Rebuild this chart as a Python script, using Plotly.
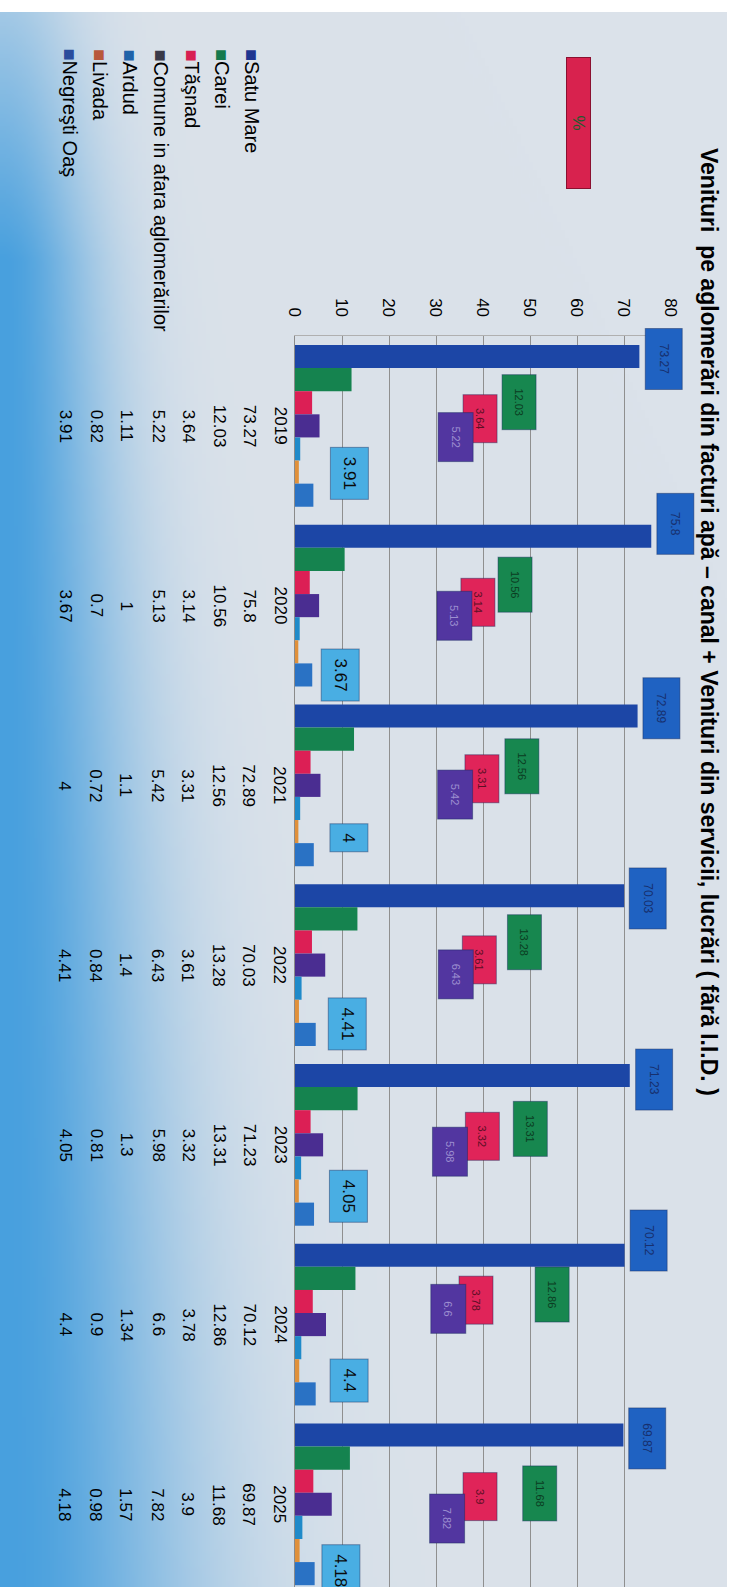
import base64
import struct
import zlib

import numpy as np
import plotly.graph_objects as go

# ---------------- data ----------------
years = ["2019", "2020", "2021", "2022", "2023", "2024", "2025"]
series_names = ["Satu Mare", "Carei", "Tăşnad", "Comune in afara aglomerărilor",
                "Ardud", "Livada", "Negreşti Oaş"]
satu_mare = [73.27, 75.8, 72.89, 70.03, 71.23, 70.12, 69.87]
carei = [12.03, 10.56, 12.56, 13.28, 13.31, 12.86, 11.68]
tasnad = [3.64, 3.14, 3.31, 3.61, 3.32, 3.78, 3.9]
comune = [5.22, 5.13, 5.42, 6.43, 5.98, 6.6, 7.82]
ardud = [1.11, 1, 1.1, 1.4, 1.3, 1.34, 1.57]
livada = [0.82, 0.7, 0.72, 0.84, 0.81, 0.9, 0.98]
negresti = [3.91, 3.67, 4, 4.41, 4.05, 4.4, 4.18]
x_ticks = [0, 10, 20, 30, 40, 50, 60, 70, 80]
title_text = ("Venituri\u00a0 pe aglomerări din facturi apă – canal + Venituri din servicii, "
              "lucrări ( fără I.I.D. )")
axis_title = "%"

series_values = [satu_mare, carei, tasnad, comune, ardud, livada, negresti]

# ---------------- styles / placement ----------------
W, H = 734, 1587
ML, MR, MT, MB = 295, 63, 336, 0
PW, PH = W - ML - MR, H - MT - MB
FONT = "Liberation Sans, Arial, sans-serif"

bar_colors = ["#1c46a6", "#15834f", "#dc1f55", "#4a2d91", "#1f8ac9", "#e0903a", "#2a72c4"]
key_colors = ["#1e3590", "#157a4d", "#d81f52", "#3a3a48", "#1f62a8", "#b8583a", "#2a4c9c"]

# data-label boxes (placement of the dragged labels, in axis units / pixel shifts)
label_style = {
    0: dict(bg="#1f62c2", fg="#17306e", size=12, w=58, h=34),
    1: dict(bg="#17874f", fg="#0b3d22", size=11, w=52, h=31),
    2: dict(bg="#e02459", fg="#5c0f25", size=11, w=45, h=31),
    3: dict(bg="#5236a0", fg="#9d8fd0", size=11, w=46, h=32),
    6: dict(bg="#49aee3", fg="#0a0a0a", size=17, w=None, h=None),
}
label_x = {
    1: [47.7, 46.9, 48.2, 48.8, 50.1, 54.8, 52.0],
    2: [39.4, 39.0, 39.7, 39.2, 39.9, 38.6, 39.3],
    3: [34.1, 33.9, 34.1, 34.3, 32.9, 32.6, 32.4],
    6: [11.6, 9.7, 11.4, 11.1, 11.4, 11.6, 9.7],
}
label_dy = {
    0: [66.5, 81.5, 77.5, 66.5, 65.5, 84.5, 65.5],
    1: [23.5, 20.5, 19.5, 22.5, 15.5, 30.5, 10.5],
    2: [7.5, 3.5, 6.5, 5.5, 8.5, 24.5, 7.5],
    3: [-11.5, -10.5, -9.5, -9.5, -6.5, 15.5, -14.5],
    6: [-47.5, -69.5, -52.5, -58.5, -51.5, -55.5, -66.5],
}

# data table placement (pixel columns)
year_row_px = 280
value_row_px = [249, 219, 188, 158, 126, 96, 65]
name_row_px = [252, 222, 192, 161, 130, 100, 70]
name_top_px = 47


def px_to_paper_x(px):
    return (px - ML) / PW


def py_to_paper_y(py):
    return (H - MB - py) / PH


def fmt(v):
    return f"{v:g}"


# ---------------- background gradient image ----------------
def make_png(rgb):
    h, w, _ = rgb.shape
    raw = b"".join(b"\x00" + rgb[i].tobytes() for i in range(h))

    def chunk(t, d):
        return struct.pack(">I", len(d)) + t + d + struct.pack(">I", zlib.crc32(t + d) & 0xFFFFFFFF)

    return (b"\x89PNG\r\n\x1a\n"
            + chunk(b"IHDR", struct.pack(">IIBBBBB", w, h, 8, 2, 0, 0, 0))
            + chunk(b"IDAT", zlib.compress(raw, 9))
            + chunk(b"IEND", b""))


bg_x0, bg_x1, bg_y0, bg_y1 = 0, 727, 12, H
gw, gh = 182, 394
gx = bg_x0 + (np.arange(gw) + 0.5) * (bg_x1 - bg_x0) / gw
gy = bg_y0 + (np.arange(gh) + 0.5) * (bg_y1 - bg_y0) / gh
PX, PY = np.meshgrid(gx, gy)
amp = np.clip(0.35 + PY / 400.0, 0, 1)
wid = 75 + 115 * PY / H
t = amp * np.exp(-(PX / wid) ** 2)
pale = np.array([219, 226, 234], dtype=float)
blue = np.array([72, 160, 222], dtype=float)
img = (pale[None, None, :] * (1 - t[..., None]) + blue[None, None, :] * t[..., None])
img = np.clip(img, 0, 255).astype(np.uint8)
bg_uri = "data:image/png;base64," + base64.b64encode(make_png(img)).decode()

# ---------------- figure ----------------
fig = go.Figure()
for name, vals, col in zip(series_names, series_values, bar_colors):
    fig.add_trace(go.Bar(
        y=years, x=vals, name=name, orientation="h",
        marker=dict(color=col, line=dict(width=0)),
        hoverinfo="x+name",
    ))

ann = []
# data labels
for si, st in label_style.items():
    vals = series_values[si]
    for j, v in enumerate(vals):
        a = dict(
            xref="x", yref="y", y=j, text=fmt(v), showarrow=False,
            textangle=90, xanchor="center", yanchor="middle",
            font=dict(family=FONT, size=st["size"], color=st["fg"]),
            bgcolor=st["bg"], bordercolor="rgba(20,40,90,0.45)", borderwidth=1,
            yshift=label_dy[si][j],
        )
        if si == 0:
            a.update(x=v, xshift=24)
        else:
            a.update(x=label_x[si][j])
        if st["w"]:
            a.update(width=st["w"], height=st["h"], borderpad=1)
        else:
            a.update(borderpad=9)
        ann.append(a)

# data table: years row
for j, yv in enumerate(years):
    ann.append(dict(xref="paper", yref="y", x=px_to_paper_x(year_row_px), y=j, text=yv,
                    showarrow=False, textangle=90, xanchor="center", yanchor="middle",
                    font=dict(family=FONT, size=17, color="#000000")))
# data table: values
for si, vals in enumerate(series_values):
    for j, v in enumerate(vals):
        ann.append(dict(xref="paper", yref="y", x=px_to_paper_x(value_row_px[si]), y=j,
                        text=fmt(v), showarrow=False, textangle=90,
                        xanchor="center", yanchor="middle",
                        font=dict(family=FONT, size=17, color="#000000")))
# data table: series names with keys
for si, name in enumerate(series_names):
    ann.append(dict(xref="paper", yref="paper", x=px_to_paper_x(name_row_px[si]),
                    y=py_to_paper_y(name_top_px),
                    text=f'<span style="color:{key_colors[si]}">■</span>{name}',
                    showarrow=False, textangle=90, xanchor="center", yanchor="top",
                    font=dict(family=FONT, size=20, color="#000000")))
# title
ann.append(dict(xref="paper", yref="paper", x=px_to_paper_x(709), y=py_to_paper_y(622),
                text=f"<b>{title_text}</b>", showarrow=False, textangle=90,
                xanchor="center", yanchor="middle",
                font=dict(family=FONT, size=23, color="#000000")))
# value axis title "%"
ann.append(dict(xref="paper", yref="paper", x=px_to_paper_x(578), y=py_to_paper_y(123),
                text=axis_title, showarrow=False, textangle=90,
                xanchor="center", yanchor="middle", width=128, height=21, borderpad=1,
                bgcolor="#d8224e", bordercolor="#8a1030", borderwidth=1,
                font=dict(family=FONT, size=17, color="#1f5a2e")))

fig.update_layout(
    width=W, height=H, autosize=False,
    margin=dict(l=ML, r=MR, t=MT, b=MB, pad=0),
    barmode="group", bargap=0.1, bargroupgap=0,
    showlegend=False,
    paper_bgcolor="#ffffff", plot_bgcolor="#ffffff",
    font=dict(family=FONT, color="#000000"),
    annotations=ann,
    images=[dict(source=bg_uri, xref="paper", yref="paper",
                 x=px_to_paper_x(bg_x0), y=py_to_paper_y(bg_y0),
                 sizex=(bg_x1 - bg_x0) / PW, sizey=(bg_y1 - bg_y0) / PH,
                 xanchor="left", yanchor="top", sizing="stretch", layer="below")],
    xaxis=dict(range=[0, 80], side="top", tickmode="array", tickvals=x_ticks,
               ticktext=[str(v) for v in x_ticks], tickangle=90,
               tickfont=dict(family=FONT, size=17, color="#000000"),
               showgrid=True, gridcolor="#8f8f8f", gridwidth=1, zeroline=False,
               showline=True, linecolor="#b0b0b0", linewidth=1, ticks="",
               ticklabelstandoff=12, fixedrange=True),
    yaxis=dict(type="category", categoryorder="array", categoryarray=years,
               range=[6.46, -0.5], showticklabels=False, showgrid=False,
               zeroline=False, showline=True, linecolor="#8a8a8a", linewidth=1,
               ticks="", fixedrange=True),
)

fig.write_html(
    "out.html",
    config={"displayModeBar": False},
    post_script="document.body.style.margin='0';document.body.style.padding='0';"
                "document.body.style.overflow='hidden';",
)
